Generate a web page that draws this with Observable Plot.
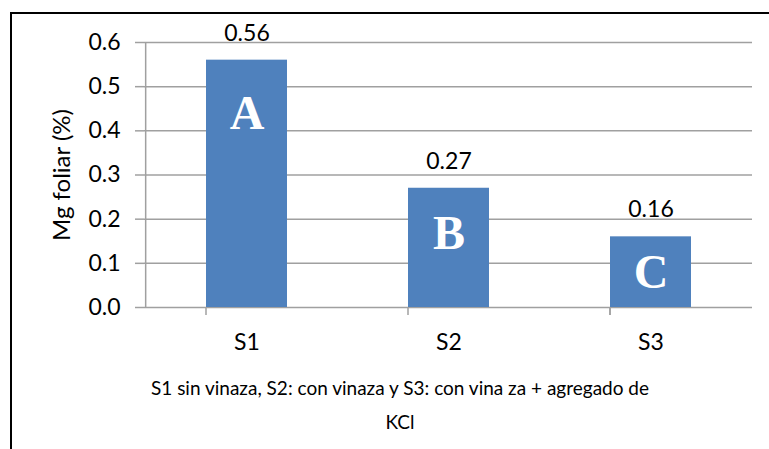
<!DOCTYPE html>
<html><head><meta charset="utf-8">
<script src="https://cdn.jsdelivr.net/npm/d3@7"></script>
<script src="https://cdn.jsdelivr.net/npm/@observablehq/plot@0.6"></script>
<style>
body{margin:0;background:#fff;font-family:Lato,"Liberation Sans",sans-serif;}
#wrap{position:relative;width:769px;height:449px;overflow:hidden;}
#border{position:absolute;left:10px;top:12px;width:800px;height:500px;border-left:2px solid #000;border-top:2px solid #000;}
#chart{position:absolute;left:0;top:0;}
#caption{position:absolute;left:100px;width:600px;top:371px;text-align:center;font-size:19px;line-height:34px;color:#000;}
</style></head>
<body>
<div id="wrap"><div id="border"></div><div id="chart"></div><div id="caption"></div></div>
<script>
const categories = ["S1", "S2", "S3"];
const values = [0.56, 0.27, 0.16];
const valueLabels = ["0.56", "0.27", "0.16"];
const letters = ["A", "B", "C"];
const letterY = [0.44, 0.167, 0.078];
const yTicks = [0, 0.1, 0.2, 0.3, 0.4, 0.5, 0.6];
const yLabel = "Mg foliar (%)";
const captionLines = ["S1 sin vinaza, S2: con vinaza y S3: con vina za + agregado de", "KCl"];

const data = categories.map((c, i) => ({cat: c, value: values[i], label: valueLabels[i], letter: letters[i], ly: letterY[i]}));

const W = 769, H = 360, mL = 144, mR = 17;
const step = (W - mL - mR) / 3;
const grid = "#a0a0a0";
const bounds = [...categories.map(c => ({c, dx: -step / 2})), {c: categories[categories.length - 1], dx: step / 2}];

const chart = Plot.plot({
  width: W, height: H,
  marginTop: 42, marginBottom: 53, marginLeft: mL, marginRight: mR,
  style: {fontFamily: "Lato, 'Liberation Sans', sans-serif", fontSize: "22px", color: "#000", background: "transparent"},
  x: {domain: categories, paddingInner: 0.6, paddingOuter: 0.3},
  y: {domain: [0, 0.6]},
  marks: [
    Plot.ruleY(yTicks, {y: d => d, stroke: grid, strokeWidth: 1.5}),
    Plot.barY(data, {x: "cat", y: "value", fill: "#4F81BD"}),
    Plot.ruleX(bounds, {x: "c", dx: "dx", y1: 0, y2: -0.018, stroke: grid, strokeWidth: 1.5}),
    Plot.ruleX([categories[0]], {x: d => d, dx: -step / 2, y1: 0.6, y2: 0, stroke: grid, strokeWidth: 1.5}),
    Plot.axisY({ticks: yTicks, tickFormat: d3.format(".1f"), tickSize: 9, tickPadding: 15, stroke: grid, strokeWidth: 1.5, fill: "#000", fontSize: "23px",
      label: null}),
    Plot.axisX({tickSize: 0, tickPadding: 26, fontSize: "23px", fill: "#000", label: null}),
    Plot.text([yLabel], {text: d => d, frameAnchor: "left", textAnchor: "middle", rotate: -90, dx: -82, fontSize: "24px", fill: "#000"}),
    Plot.text(data, {x: "cat", y: "value", text: "label", dy: -27, fontSize: "23px", fill: "#000"}),
    Plot.text(data, {x: "cat", y: "ly", text: "letter", fontSize: "48px", fontWeight: "bold", fontFamily: "'Liberation Serif', 'Times New Roman', serif", fill: "#fff"})
  ]
});
document.getElementById("chart").appendChild(chart);
document.getElementById("caption").innerHTML = captionLines.join("<br>");
</script>
</body></html>
